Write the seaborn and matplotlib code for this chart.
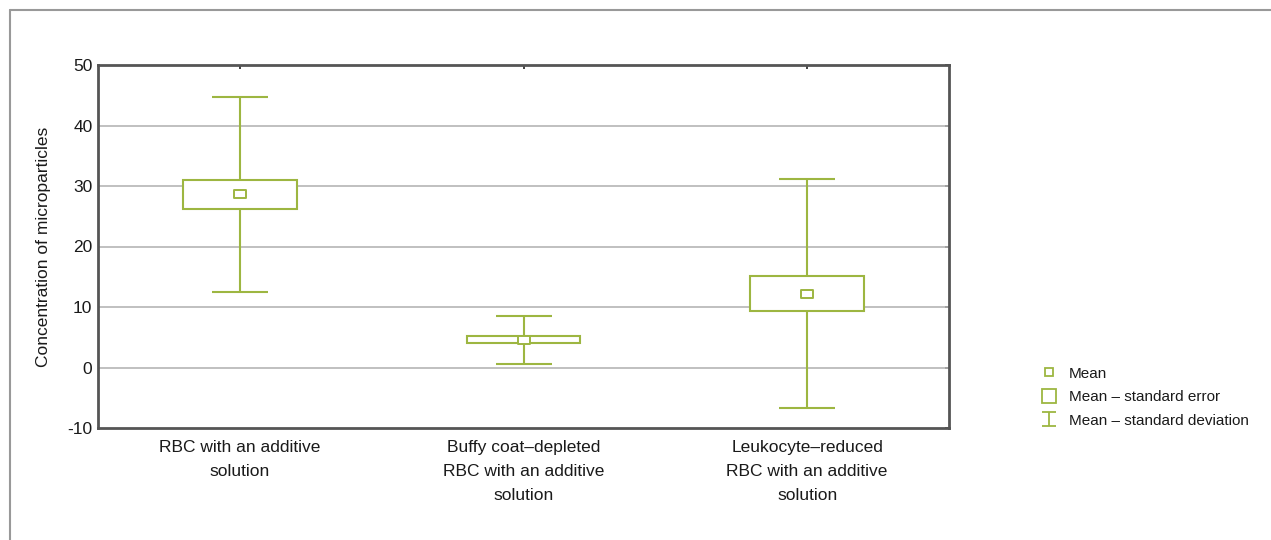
import numpy as np
import pandas as pd
import matplotlib
matplotlib.use("Agg")
import matplotlib.pyplot as plt
from matplotlib.path import Path
from matplotlib.lines import Line2D
import seaborn as sns

# Summary statistics per product type
categories = [
    "RBC with an additive\nsolution",
    "Buffy coat\u2013depleted\nRBC with an additive\nsolution",
    "Leukocyte\u2013reduced\nRBC with an additive\nsolution",
]
means = [28.6, 4.6, 12.2]
std_errors = [2.4, 0.6, 2.9]
std_devs = [16.05, 3.95, 18.9]

yticks = [-10, 0, 10, 20, 30, 40, 50]

GREEN = "#9db641"
SPINE = "#555555"
TEXT = "#1a1a1a"

sns.set_theme(style="white")
plt.rcParams["font.family"] = ["Liberation Sans", "DejaVu Sans"]
plt.rcParams["axes.unicode_minus"] = False

df = pd.DataFrame({"pos": np.arange(len(categories)), "mean": means,
                   "se": std_errors, "sd": std_devs, "label": categories})

fig = plt.figure(figsize=(12.71, 5.40), dpi=100)
ax = fig.add_axes([98 / 1271, 1 - 428 / 540, (949 - 98) / 1271, (428 - 65) / 540])

# Standard deviation whiskers
ax.errorbar(df["pos"], df["mean"], yerr=df["sd"], fmt="none", ecolor=GREEN,
            elinewidth=1.5, capsize=20.5, capthick=1.5, zorder=2)

# Standard error boxes
ax.bar(df["pos"], 2 * df["se"], bottom=df["mean"] - df["se"], width=0.4,
       facecolor="white", edgecolor=GREEN, linewidth=1.5, zorder=3)

# Mean markers (small rectangles)
rect = Path([(-1.5, -1), (1.5, -1), (1.5, 1), (-1.5, 1), (-1.5, -1)],
            [Path.MOVETO, Path.LINETO, Path.LINETO, Path.LINETO, Path.CLOSEPOLY])
sns.scatterplot(data=df, x="pos", y="mean", marker=rect, s=75,
                facecolor="white", edgecolor=GREEN, linewidth=1.4,
                zorder=4, ax=ax, legend=False)

ax.set_xlim(-0.5, len(categories) - 0.5)
ax.set_ylim(-10, 50)
ax.set_yticks(yticks)
ax.set_yticklabels([str(t) for t in yticks])
ax.set_xticks(df["pos"])
ax.set_xticklabels([])
ax.set_xlabel("")
ax.set_ylabel("Concentration of microparticles", fontsize=12.5, labelpad=12,
              color=TEXT)

# Category labels under each group
for pos, lab in zip(df["pos"], df["label"]):
    ax.text(pos, -0.032, lab, transform=ax.get_xaxis_transform(),
            ha="center", va="top", fontsize=12.5, color=TEXT, linespacing=1.75)

for t in [0, 10, 20, 30, 40]:
    ax.axhline(t, color="#b5b5b5", linewidth=1.2, zorder=1)

for s in ax.spines.values():
    s.set_visible(True)
    s.set_color(SPINE)
    s.set_linewidth(2)

ax.tick_params(axis="both", direction="in", length=3, width=1.2, color="#222222",
               top=True, right=True, labelsize=12.5, labelcolor=TEXT)
ax.tick_params(axis="y", pad=4)

# Legend with custom symbols
ibeam = Path([(-1, 1), (1, 1), (0, 1), (0, -1), (-1, -1), (1, -1)],
             [Path.MOVETO, Path.LINETO, Path.MOVETO, Path.LINETO, Path.MOVETO, Path.LINETO])
handles = [
    Line2D([], [], linestyle="none", marker="s", markersize=5.5,
           markerfacecolor="white", markeredgecolor=GREEN, markeredgewidth=1.3),
    Line2D([], [], linestyle="none", marker="s", markersize=10.5,
           markerfacecolor="white", markeredgecolor=GREEN, markeredgewidth=1.3),
    Line2D([], [], linestyle="none", marker=ibeam, markersize=10.5,
           markerfacecolor="none", markeredgecolor=GREEN, markeredgewidth=1.3),
]
labels = ["Mean", "Mean \u2013 standard error", "Mean \u2013 standard deviation"]
fig.legend(handles, labels, loc="upper left", bbox_to_anchor=(1032 / 1271, 1 - 359 / 540),
           frameon=False, fontsize=11, handlelength=1.2, handletextpad=0.7,
           labelspacing=0.62, borderpad=0, labelcolor=TEXT)

# Outer frame (top and left edges)
fig.add_artist(Line2D([10 / 1271, 10 / 1271], [0, 1 - 10 / 540],
                      transform=fig.transFigure, color="#999999", linewidth=1.5))
fig.add_artist(Line2D([10 / 1271, 1], [1 - 10 / 540, 1 - 10 / 540],
                      transform=fig.transFigure, color="#999999", linewidth=1.5))

fig.savefig("out.png", dpi=100, facecolor="white")
